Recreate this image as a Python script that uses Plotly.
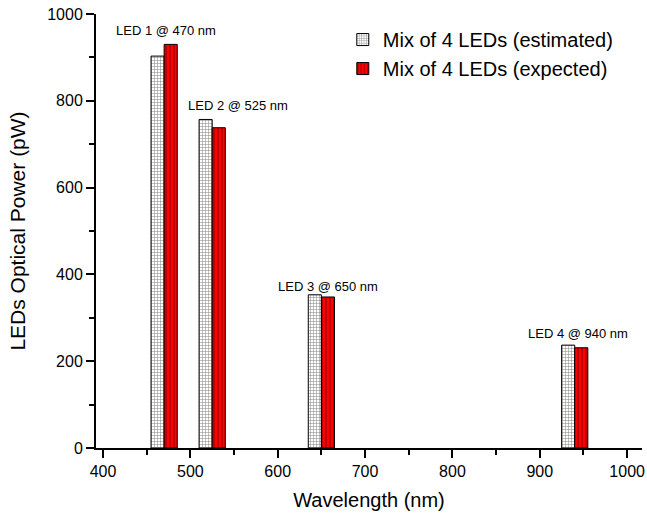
import plotly.graph_objects as go

# Data
wavelengths = [470, 525, 650, 940]
estimated = [903, 757, 353, 237]
expected = [930, 738, 348, 231]
led_labels = ["LED 1 @ 470 nm", "LED 2 @ 525 nm", "LED 3 @ 650 nm", "LED 4 @ 940 nm"]
label_x = [472, 555, 657, 944]
label_y = [963, 790, 372, 263]
series_names = ["Mix of 4 LEDs (estimated)", "Mix of 4 LEDs (expected)"]

FONT = "Liberation Sans, Arial, sans-serif"

fig = go.Figure()
fig.add_trace(go.Bar(
    x=wavelengths, y=estimated, name=series_names[0],
    width=15, offset=-15,
    marker=dict(color="white", line=dict(color="black", width=1),
                pattern=dict(shape="+", fgcolor="black", bgcolor="white",
                             size=3, solidity=0.3)),
))
fig.add_trace(go.Bar(
    x=wavelengths, y=expected, name=series_names[1],
    width=15, offset=0,
    marker=dict(color="red", line=dict(color="black", width=1),
                pattern=dict(shape="|", fgcolor="black", bgcolor="red",
                             size=4, solidity=0.25)),
))

for t, xx, yy in zip(led_labels, label_x, label_y):
    fig.add_annotation(x=xx, y=yy, text=t, showarrow=False,
                       font=dict(family=FONT, size=13, color="black"),
                       xanchor="center", yanchor="middle")

fig.update_layout(
    width=647, height=516,
    margin=dict(l=96, r=5, t=14, b=68, autoexpand=False),
    paper_bgcolor="white", plot_bgcolor="white",
    barmode="overlay",
    font=dict(family=FONT, color="black"),
    legend=dict(x=0.452, y=0.986, xanchor="left", yanchor="top",
                font=dict(family=FONT, size=20, color="black"),
                bgcolor="rgba(0,0,0,0)", tracegroupgap=0),
    showlegend=True,
)
fig.update_xaxes(
    automargin=False, ticklabeloverflow="allow",
    range=[392, 1017], tickmode="array", tickvals=[400, 500, 600, 700, 800, 900, 1000],
    showline=True, linecolor="black", linewidth=2,
    ticks="outside", ticklen=8, tickwidth=2, tickcolor="black",
    minor=dict(tickvals=[450, 550, 650, 750, 850, 950], ticks="outside", ticklen=5,
               tickwidth=2, tickcolor="black", showgrid=False),
    showgrid=False, zeroline=False,
    tickfont=dict(family=FONT, size=16),
    title=dict(text="Wavelength (nm)", font=dict(family=FONT, size=20), standoff=14),
)
fig.update_yaxes(
    automargin=False, ticklabeloverflow="allow",
    range=[0, 1000], tickmode="array", tickvals=[0, 200, 400, 600, 800, 1000],
    showline=True, linecolor="black", linewidth=2,
    ticks="outside", ticklen=8, tickwidth=2, tickcolor="black",
    minor=dict(tickvals=[100, 300, 500, 700, 900], ticks="outside", ticklen=5,
               tickwidth=2, tickcolor="black", showgrid=False),
    showgrid=False, zeroline=False,
    tickfont=dict(family=FONT, size=16),
    title=dict(text="LEDs Optical Power (pW)", font=dict(family=FONT, size=21), standoff=16),
)

# remove the browser's default 8px body margin so the figure fills the window
fig.write_html("out.html",
               config={"displayModeBar": False},
               post_script="document.body.style.margin='0';document.body.style.overflow='hidden';")
